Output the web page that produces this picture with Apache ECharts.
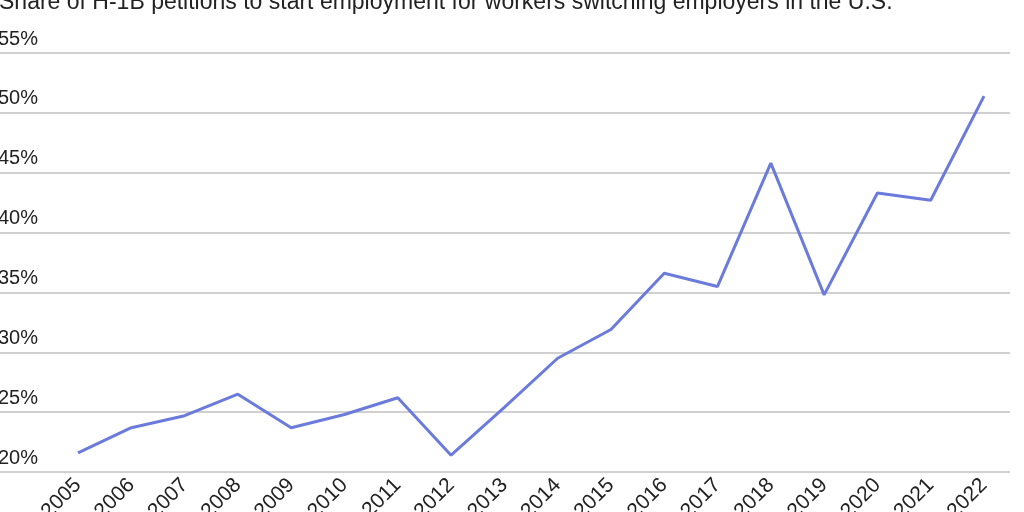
<!DOCTYPE html>
<html><head><meta charset="utf-8">
<script src="https://cdn.jsdelivr.net/npm/echarts@6/dist/echarts.min.js"></script>
<style>html,body{margin:0;padding:0;background:#fff}#c{width:1024px;height:512px}</style>
</head><body><div id="c"></div>
<script>
var years=['2005','2006','2007','2008','2009','2010','2011','2012','2013','2014','2015','2016','2017','2018','2019','2020','2021','2022'];
var share=[21.6,23.7,24.7,26.5,23.7,24.8,26.2,21.4,25.4,29.5,31.9,36.6,35.5,45.8,34.8,43.3,42.7,51.4];
var yMin=20, yMax=55, yStep=5;

var chart=echarts.init(document.getElementById('c'));
var font='"Liberation Sans", Arial, sans-serif';
chart.setOption({
  animation:false,
  title:{text:'Share of H-1B petitions to start employment for workers switching employers in the U.S.',left:-6,top:-14,
    textStyle:{fontFamily:font,fontSize:23,fontWeight:'normal',color:'#222'}},
  grid:[
    {left:0,right:14,top:53,bottom:40,outerBoundsMode:'none'},
    {left:78,right:40,top:53,bottom:40,outerBoundsMode:'none'}
  ],
  xAxis:[
    {gridIndex:0,type:'value',show:false,min:0,max:1},
    {gridIndex:1,type:'category',data:years,boundaryGap:false,
      axisLine:{show:false},axisTick:{show:false},
      axisLabel:{rotate:45,fontFamily:font,fontSize:21,color:'#222',margin:10}}
  ],
  yAxis:[
    {gridIndex:0,type:'value',min:yMin,max:yMax,interval:yStep,
      axisLine:{show:false},axisTick:{show:false},
      splitLine:{lineStyle:{color:'#d0d0d0',width:2}},
      axisLabel:{inside:true,verticalAlign:'bottom',margin:-2,padding:[0,0,4,0],
        formatter:'{value}%',fontFamily:font,fontSize:20,color:'#222'}},
    {gridIndex:1,type:'value',min:yMin,max:yMax,interval:yStep,show:false}
  ],
  series:[{type:'line',xAxisIndex:1,yAxisIndex:1,data:share,symbol:'none',
    lineStyle:{color:'#6b7bdc',width:3}}]
});
</script></body></html>
